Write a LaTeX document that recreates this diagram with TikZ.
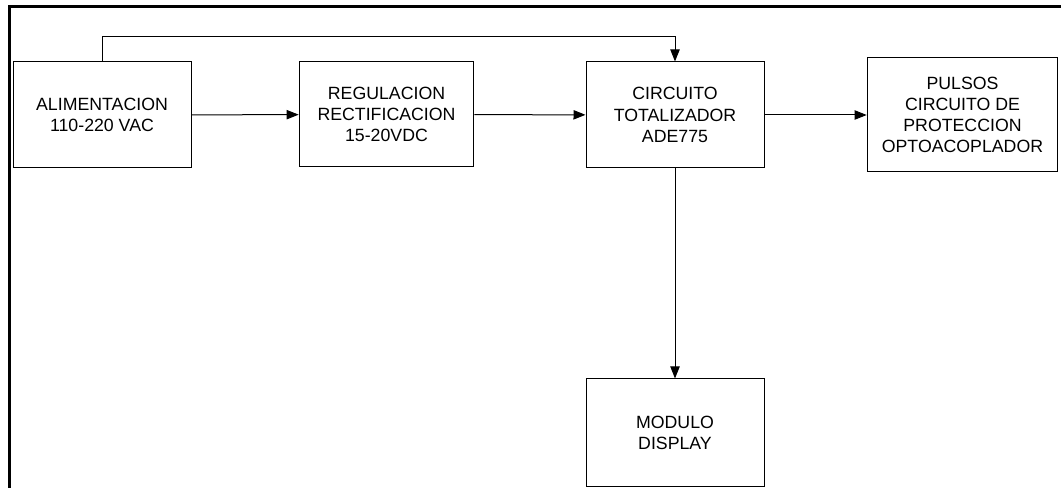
\documentclass[tikz,border=0pt]{standalone}
\usepackage{fontspec}
\setmainfont{Liberation Sans}
\usepackage{tikz}
\usetikzlibrary{arrows.meta,positioning}
\tikzset{
     blk/.style={draw, rectangle, line width=0.75pt, align=center,
       minimum width=133.5pt, minimum height=79.5pt, inner sep=2pt,
       font=\fontsize{13.3}{15.9}\selectfont},
     blkwide/.style={blk, minimum width=143pt, minimum height=85.5pt},
     link/.style={line width=0.75pt, -{Triangle[length=9pt,width=7pt]}},
     marco/.style={line width=2.2pt},
}
\def\ux{0.75pt}
\def\uy{-0.75pt}

\begin{document}
\begin{tikzpicture}[x=\ux,y=\uy]
		\useasboundingbox (0,0) rectangle (1061,488);
		% page frame
		\draw[marco] (9.3,488) -- (9.3,6.7) -- (1061,6.7);

		\node[blk] (alim) at (102,115) {ALIMENTACION\\110-220 VAC};
		\node[blk, minimum width=131pt, minimum height=78.75pt] (reg) at (386.5,114.5)
			{REGULACION\\RECTIFICACION\\15-20VDC};
		\node[blk] (tot) at (675,115) {CIRCUITO\\TOTALIZADOR\\ADE775};
		\node[blkwide] (pul) at (962.5,115)
			{PULSOS\\CIRCUITO DE\\PROTECCION\\OPTOACOPLADOR};
		\node[blk, minimum height=80.25pt] (disp) at (675,432.5) {MODULO\\DISPLAY};

		\draw[link] (alim) -- (reg);
		\draw[link] (reg) -- (tot);
		\draw[link] (tot) -- (pul);
		\draw[link] (tot) -- (disp);
		\draw[link] (alim.north) -- ++(0,-25) -| (tot.north);
\end{tikzpicture}
\end{document}
